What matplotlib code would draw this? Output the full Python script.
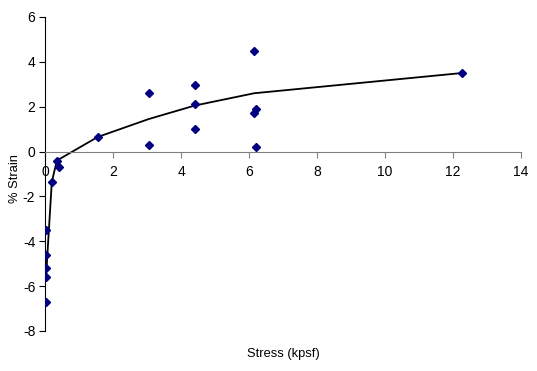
import matplotlib
matplotlib.use("Agg")
import matplotlib.pyplot as plt

stress = [0.02, 0.02, 0.02, 0.02, 0.02, 0.2, 0.35, 0.4, 1.55, 3.05, 3.05,
          4.4, 4.4, 4.4, 6.15, 6.2, 6.15, 6.2, 12.25]
strain = [-3.5, -4.6, -5.2, -5.6, -6.7, -1.35, -0.4, -0.7, 0.65, 2.6, 0.3,
          2.95, 2.1, 1.0, 4.5, 1.9, 1.7, 0.2, 3.5]

trend_x = [0.03, 0.2, 0.35, 1.55, 3.05, 4.4, 6.15, 12.25]
trend_y = [-5.6, -1.35, -0.4, 0.65, 1.45, 2.05, 2.6, 3.5]

x_ticks = [0, 2, 4, 6, 8, 10, 12, 14]
y_ticks = [-8, -6, -4, -2, 0, 2, 4, 6]

plt.rcParams['font.family'] = ['Liberation Sans', 'DejaVu Sans']

fig = plt.figure(figsize=(5.37, 3.71), dpi=100)
ax = fig.add_axes([45/537, 40/371, 476/537, 314/371])

ax.plot(trend_x, trend_y, color='black', lw=1.3, zorder=2)
ax.plot(stress, strain, linestyle='none', marker='D', markersize=4,
        color='#000080', zorder=3)

ax.set_xlim(0, 14)
ax.set_ylim(-8, 6)
ax.set_xticks(x_ticks)
ax.set_yticks(y_ticks)
ax.set_xticklabels([str(v) for v in x_ticks], fontsize=8.5)
ax.set_yticklabels([str(v) for v in y_ticks], fontsize=8.5)

ax.spines['top'].set_visible(False)
ax.spines['right'].set_visible(False)
ax.spines['left'].set_position(('data', 0))
ax.spines['bottom'].set_position(('data', 0))
ax.spines['bottom'].set_color('#808080')
ax.spines['left'].set_color('black')
ax.tick_params(axis='x', direction='out', length=4, color='#808080', pad=6)
ax.tick_params(axis='y', direction='out', length=4, color='black', pad=3)

ax.set_xlabel('Stress (kpsf)', fontsize=9.3)
ax.set_ylabel('% Strain', fontsize=9.3)
ax.xaxis.set_label_coords(0.5, -0.054)
ax.yaxis.set_label_coords(-0.051, 0.484)

fig.savefig('out.png', dpi=100)
